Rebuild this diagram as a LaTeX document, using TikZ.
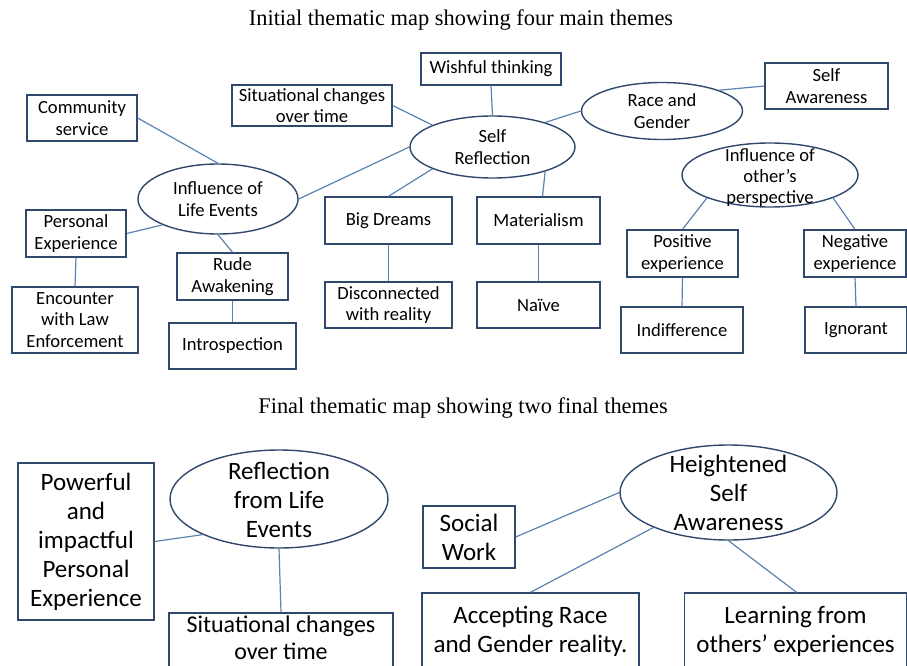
\documentclass[tikz,border=0pt]{standalone}
\usepackage{fontspec}
\setmainfont{Carlito}
\newfontfamily\titlefont{Liberation Serif}
\usetikzlibrary{shapes.geometric}
\definecolor{boxc}{HTML}{30486B}
\definecolor{linec}{HTML}{5B82B0}
\begin{document}
\begin{tikzpicture}[x=1pt,y=-1pt,
 box/.style={draw=boxc, line width=1.4pt, fill=white, inner sep=0pt, align=center, font=\fontsize{18.6}{21.5}\selectfont},
 ell/.style={draw=boxc, line width=1.4pt, ellipse, inner sep=0pt},
 etext/.style={inner sep=0pt, align=center, font=\fontsize{18.6}{21.5}\selectfont},
 bigbox/.style={box, font=\fontsize{25}{29}\selectfont},
 bigtext/.style={etext, font=\fontsize{25}{29}\selectfont},
 conn/.style={draw=linec, line width=1.2pt},
 ttl/.style={inner sep=0pt, font=\titlefont\fontsize{22.4}{27}\selectfont}]
\useasboundingbox (0,0) rectangle (907,666);
\clip (0,0) rectangle (907,666);

% titles
\node[ttl] (t1) at (461,20) {Initial thematic map showing four main themes};
\node[ttl] (t2) at (463,408) {Final thematic map showing two final themes};

% top map
\node[box, minimum width=110pt, minimum height=46pt] (cs) at (82,118) {Community\\service};
\node[box, minimum width=160pt, minimum height=41pt] (sit) at (312,105.5) {Situational changes\\over time};
\node[box, minimum width=140pt, minimum height=32pt] (wt) at (491,69) {Wishful thinking};
\node[ell, minimum width=161pt, minimum height=57pt] (rg) at (662,111) {};
\node[etext] (rgt) at (rg) {Race and\\Gender};
\node[box, minimum width=123pt, minimum height=46pt] (sa) at (826.5,86) {Self\\Awareness};
\node[ell, minimum width=165pt, minimum height=62pt] (sr) at (492.5,147) {};
\node[etext] (srt) at (sr) {Self\\Reflection};
\node[ell, minimum width=160pt, minimum height=70pt] (ile) at (218,199) {};
\node[etext] (ilet) at (ile) {Influence of\\Life Events};
\node[ell, minimum width=176pt, minimum height=64pt] (iop) at (770,175) {};
\node[etext, font=\fontsize{18.6}{21}\selectfont] (iopt) at (770,178) {Influence of\\other’s\\perspective};
\node[box, minimum width=100pt, minimum height=47pt] (pe) at (76,233.5) {Personal\\Experience};
\node[box, minimum width=126pt, minimum height=66pt] (enc) at (75,320) {Encounter\\with Law\\Enforcement};
\node[box, minimum width=111pt, minimum height=47pt] (ra) at (232.5,276.5) {Rude\\Awakening};
\node[box, minimum width=127pt, minimum height=46pt] (intro) at (232.5,346) {Introspection};
\node[box, minimum width=127pt, minimum height=47pt] (bd) at (388.5,220.5) {Big Dreams};
\node[box, minimum width=123pt, minimum height=47pt] (mat) at (538.5,220.5) {Materialism};
\node[box, minimum width=127pt, minimum height=46pt] (dis) at (388.5,305) {Disconnected\\with reality};
\node[box, minimum width=123pt, minimum height=46pt] (nai) at (538.5,305) {Naïve};
\node[box, minimum width=111pt, minimum height=47pt] (pos) at (682.5,253.5) {Positive\\experience};
\node[box, minimum width=102pt, minimum height=47pt] (neg) at (855,253.5) {Negative\\experience};
\node[box, minimum width=122pt, minimum height=46pt] (ind) at (682,330) {Indifference};
\node[box, minimum width=102pt, minimum height=46pt] (ign) at (856,330) {Ignorant};

% top connectors
\draw[conn] (cs.east) -- (ile.north);
\draw[conn] (ile.east) -- (sr.west);
\draw[conn] (pe.east) -- (ile.205);
\draw[conn] (ile.south) -- (ra.north);
\draw[conn] (pe.south) -- (enc.north);
\draw[conn] (ra.south) -- (intro.north);
\draw[conn] (sit.east) -- (sr.160);
\draw[conn] (wt.south) -- (sr.north);
\draw[conn] (sr.25) -- (rg.west);
\draw[conn] (sr.200) -- (bd.north);
\draw[conn] (sr.-25) -- ([xshift=4pt]mat.north);
\draw[conn] (bd.south) -- (dis.north);
\draw[conn] (mat.south) -- (nai.north);
\draw[conn] (rg.20) -- (sa.west);
\draw[conn] (iop.200) -- (pos.north);
\draw[conn] (iop.-20) -- (neg.north);
\draw[conn] (pos.south) -- (ind.north);
\draw[conn] (neg.south) -- (ign.north);

% bottom map
\node[bigbox, minimum width=136pt, minimum height=157pt] (pw) at (86,541.5) {Powerful\\and\\impactful\\Personal\\Experience};
\node[ell, minimum width=218pt, minimum height=98pt] (rle) at (279,499) {};
\node[bigtext] (rlet) at (279,500) {Reflection\\from Life\\Events};
\node[box, minimum width=224pt, minimum height=66pt] (sit2) at (281,646) {};
\node[bigtext, font=\fontsize{24}{27}\selectfont] (sit2t) at (281,638) {Situational changes\\over time};
\node[ell, minimum width=217pt, minimum height=95pt] (hsa) at (728.5,492.5) {};
\node[bigtext] (hsat) at (728.5,493) {Heightened\\Self\\Awareness};
\node[bigbox, minimum width=92pt, minimum height=62pt] (sw) at (469,537) {Social\\Work};
\node[bigbox, minimum width=217pt, minimum height=76pt] (acc) at (530.5,631) {Accepting Race\\and Gender reality.};
\node[bigbox, minimum width=222pt, minimum height=76pt] (lrn) at (795.5,631) {Learning from\\others’ experiences};

% bottom connectors
\draw[conn] (pw.east) -- (rle.205);
\draw[conn] (rle.south) -- (sit2.north);
\draw[conn] (sw.east) -- (hsa.west);
\draw[conn] (hsa.205) -- (acc.north);
\draw[conn] (hsa.south) -- ([xshift=1pt]lrn.north);
\end{tikzpicture}
\end{document}
